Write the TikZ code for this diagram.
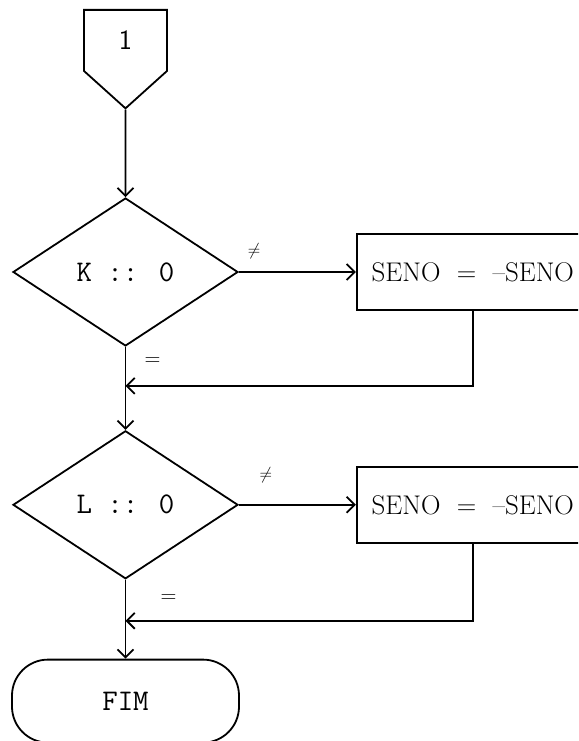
\documentclass[tikz,border=0pt]{standalone}
\usepackage{fontspec}
\usepackage{tikz}
\usetikzlibrary{shapes.geometric, shapes.symbols, arrows.meta, positioning, calc}

\begin{document}
\begin{tikzpicture}[
    x=1pt, y=1pt,
    line width=1.8pt,
    connbox/.style={signal, signal to=south, signal from=nowhere, signal pointer angle=96, draw, minimum width=83pt, minimum height=67pt, inner sep=0pt, font=\fontsize{28}{30}\selectfont\sffamily},
    decbox/.style={diamond, draw, minimum width=225pt, minimum height=148pt, inner sep=0pt, font=\fontsize{30}{32}\selectfont\ttfamily},
    procbox/.style={rectangle, draw, minimum width=232pt, minimum height=76pt, inner sep=0pt, font=\fontsize{27}{30}\selectfont},
    endbox/.style={rectangle, draw, rounded corners=36pt, minimum width=227pt, minimum height=83pt, font=\fontsize{30}{32}\selectfont\ttfamily},
    arrow/.style={-{Straight Barb[length=8pt,width=16pt]}},
    lbl/.style={font=\fontsize{22}{24}\selectfont, inner sep=0pt},
    nelbl/.style={font=\fontsize{18}{20}\selectfont, inner sep=0pt}
]
    \useasboundingbox (0,0) rectangle (578,-741);
    \clip (0,0) rectangle (578,-741);

    % Nodes
    \node[connbox, anchor=north] (con) at (125.5,-9) {1};
    \node[decbox] (k) at (125.5,-272) {K :: 0};
    \node[procbox, right=117pt of k] (sk) {SENO~~=~~--SENO};
    \node[decbox, below=83pt of k] (l) {L :: 0};
    \node[procbox, right=117pt of l] (sl) {SENO~~=~~--SENO};
    \node[endbox, below=79pt of l] (fim) {FIM};

    \coordinate (jk) at ($(k.south)!0.47!(l.north)$);
    \coordinate (jl) at ($(l.south)!0.52!(fim.north)$);

    % Arrows
    \draw[arrow] (con) -- (k);
    \draw[arrow] (k) -- node[nelbl, pos=0.13, yshift=21pt] {$\neq$} (sk);
    \draw[arrow] (sk.south) |- (jk);
    \draw[arrow] (k) -- node[lbl, pos=0.18, xshift=27pt] {=} (l);
    \draw[arrow] (l) -- node[nelbl, pos=0.23, yshift=30pt] {$\neq$} (sl);
    \draw[arrow] (sl.south) |- (jl);
    \draw[arrow] (l) -- node[lbl, pos=0.24, xshift=43pt] {=} (fim);

\end{tikzpicture}
\end{document}
